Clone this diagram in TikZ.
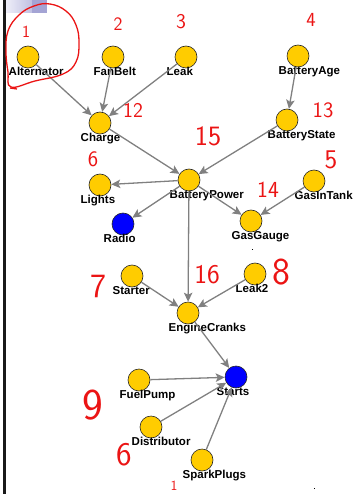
\documentclass[tikz,border=0pt]{standalone}
\usepackage{fontspec}
\setmainfont{Liberation Sans}
\usetikzlibrary{arrows.meta}
\definecolor{nodeyellow}{RGB}{255,204,0}
\definecolor{nodeblue}{RGB}{0,0,255}
\definecolor{edgegray}{RGB}{128,128,128}
\definecolor{annred}{RGB}{235,20,20}
\definecolor{lav}{RGB}{164,164,212}
\definecolor{lavlight}{RGB}{240,240,250}
\begin{document}
\begin{tikzpicture}[x=1pt,y=-1pt,
  var/.style={circle,draw=black!85,line width=0.6pt,fill=nodeyellow,minimum size=22pt,inner sep=0pt},
  obs/.style={var,fill=nodeblue},
  lbl/.style={anchor=base west,inner sep=0pt,xshift=-19.5pt,yshift=-18.5pt,font=\bfseries\fontsize{11.5}{12}\selectfont},
  edge/.style={draw=edgegray,line width=1.3pt,-{Stealth[length=9pt,width=8.5pt,inset=2pt]}},
  note/.style={text=annred,inner sep=0pt,font=\sffamily\fontsize{#1}{#1}\selectfont},
  note/.default=20
]
\useasboundingbox (0,0) rectangle (354,494);
% frame decorations
\shade[left color=lavlight,right color=lav!70] (5,0) rectangle (32,13);
\fill[lav] (32,0) rectangle (47,13);
\draw[black!90,line width=2.5pt] (4.5,0) -- (4.5,494);

% nodes
\node[var] (alt) at (28,57) {};
\node[var] (fan) at (113,57) {};
\node[var] (leak) at (186,57) {};
\node[var] (bage) at (298,56) {};
\node[var] (chg) at (100,123) {};
\node[var] (bst) at (287,120) {};
\node[var] (bpw) at (189,180) {};
\node[var] (lts) at (100,185) {};
\node[obs] (rad) at (123,224) {};
\node[var] (git) at (314,181) {};
\node[var] (gg) at (251,221) {};
\node[var] (sta) at (132,276) {};
\node[var] (lk2) at (255,274) {};
\node[var] (ec) at (188,313) {};
\node[var] (fp) at (139,380) {};
\node[obs] (sts) at (236,377) {};
\node[var] (dis) at (151,427) {};
\node[var] (sp) at (202,460) {};

% labels
\node[lbl] (altL) at (alt) {Alternator};
\node[lbl] (fanL) at (fan) {FanBelt};
\node[lbl] (leakL) at (leak) {Leak};
\node[lbl] (bageL) at (bage) {BatteryAge};
\node[lbl] (chgL) at (chg) {Charge};
\node[lbl] (bstL) at (bst) {BatteryState};
\node[lbl] (bpwL) at (bpw) {BatteryPower};
\node[lbl] (ltsL) at (lts) {Lights};
\node[lbl] (radL) at (rad) {Radio};
\node[lbl] (gitL) at (git) {GasInTank};
\node[lbl] (ggL) at (gg) {GasGauge};
\node[lbl] (staL) at (sta) {Starter};
\node[lbl] (lk2L) at (lk2) {Leak2};
\node[lbl] (ecL) at (ec) {EngineCranks};
\node[lbl] (fpL) at (fp) {FuelPump};
\node[lbl] (stsL) at (sts) {Starts};
\node[lbl] (disL) at (dis) {Distributor};
\node[lbl] (spL) at (sp) {SparkPlugs};

% edges
\draw[edge] (alt) -- (chg);
\draw[edge] (fan) -- (chg);
\draw[edge] (leak) -- (chg);
\draw[edge] (bage) -- (bst);
\draw[edge] (chg) -- (bpw);
\draw[edge] (bst) -- (bpw);
\draw[edge] (bpw) -- (lts);
\draw[edge] (bpw) -- (rad);
\draw[edge] (bpw) -- (gg);
\draw[edge] (git) -- (gg);
\draw[edge] (bpw) -- (ec);
\draw[edge] (sta) -- (ec);
\draw[edge] (lk2) -- (ec);
\draw[edge] (ec) -- (sts);
\draw[edge] (fp) -- (sts);
\draw[edge] (dis) -- (sts);
\draw[edge] (sp) -- (sts);

% stray dots
\fill[black] (251.5,248.5) rectangle (253,250);
\fill[black] (313.5,487.5) rectangle (315,489);

% handwritten annotations
\draw[annred,line width=1.3pt] plot[smooth cycle,tension=0.7] coordinates
  {(11,87) (35,81) (63,74) (76,62) (79,43) (76,25) (66,11) (50,4) (34,6) (19,15) (8,31) (6,52) (8,72)};
\draw[annred,line width=1.3pt] (10,88) -- (17,89);
\node[note=17] (n1) at (26,32) {1};
\node[note=19] (n2) at (118,24) {2};
\node[note=21] (n3) at (181,22) {3};
\node[note=20] (n4) at (311,20) {4};
\node[note=21] (n12) at (133,110) {12};
\node[note=22] (n13) at (323,110) {13};
\node[note=28] (n15) at (208,136) {15};
\node[note=22] (n6) at (93,159) {6};
\node[note=27] (n5) at (331,160) {5};
\node[note=23] (n14) at (268,190) {14};
\node[note=34] (n7) at (98,286) {7};
\node[note=27] (n16) at (207,275) {16};
\node[note=38] (n8) at (281,272) {8};
\node[note=44] (n9) at (93,405) {9};
\node[note=33] (n6b) at (124,455) {6};
\node[note=14] (n1b) at (174,486) {1};
\end{tikzpicture}
\end{document}
